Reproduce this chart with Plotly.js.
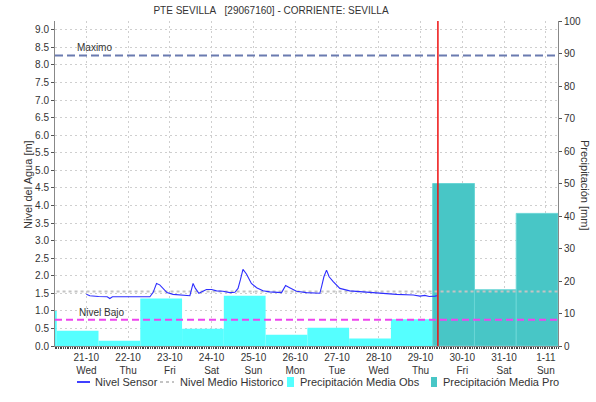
<!DOCTYPE html>
<html><head><meta charset="utf-8">
<script src="https://cdn.plot.ly/plotly-3.0.1.min.js"></script>
<style>html,body{margin:0;padding:0;background:#fff}#chart{width:596px;height:402px}</style>
</head><body><div id="chart"></div>
<script>
// ---------------- data ----------------
const titleText = 'PTE SEVILLA&nbsp;&nbsp;&nbsp;[29067160] - CORRIENTE: SEVILLA';
const dayTicks = ['2020-10-21','2020-10-22','2020-10-23','2020-10-24','2020-10-25','2020-10-26',
                  '2020-10-27','2020-10-28','2020-10-29','2020-10-30','2020-10-31','2020-11-01'];
const dayLabels = ['21-10','22-10','23-10','24-10','25-10','26-10','27-10','28-10','29-10','30-10','31-10','1-11'];
const weekdayLabels = ['Wed','Thu','Fri','Sat','Sun','Mon','Tue','Wed','Thu','Fri','Sat','Sun'];

const sensorTimes = ['2020-10-21 00:00','2020-10-21 02:00','2020-10-21 07:00','2020-10-21 12:00','2020-10-21 13:30',
 '2020-10-21 15:00','2020-10-21 20:00','2020-10-22 05:00','2020-10-22 12:30','2020-10-22 14:20','2020-10-22 16:20',
 '2020-10-22 18:10','2020-10-22 19:30','2020-10-22 22:20','2020-10-23 01:50','2020-10-23 07:30','2020-10-23 11:30',
 '2020-10-23 13:20','2020-10-23 14:40','2020-10-23 16:40','2020-10-23 19:00','2020-10-23 21:00','2020-10-24 00:00',
 '2020-10-24 02:50','2020-10-24 06:30','2020-10-24 10:30','2020-10-24 13:20','2020-10-24 15:10','2020-10-24 16:30',
 '2020-10-24 18:00','2020-10-24 20:00','2020-10-24 22:50','2020-10-25 01:50','2020-10-25 05:30','2020-10-25 09:20',
 '2020-10-25 16:10','2020-10-25 17:00','2020-10-25 18:30','2020-10-25 20:50','2020-10-26 00:45','2020-10-26 06:30',
 '2020-10-26 14:10','2020-10-26 15:10','2020-10-26 16:30','2020-10-26 18:00','2020-10-26 19:30','2020-10-26 21:50',
 '2020-10-27 01:40','2020-10-27 07:20','2020-10-27 15:00','2020-10-28 00:40','2020-10-28 10:10','2020-10-28 19:50',
 '2020-10-28 23:40','2020-10-29 02:30','2020-10-29 05:00','2020-10-29 08:20','2020-10-29 09:30'];
const sensorLevels = [1.47,1.43,1.41,1.40,1.35,
 1.40,1.40,1.40,1.40,1.52,1.78,
 1.74,1.67,1.52,1.47,1.44,1.43,
 1.78,1.64,1.50,1.57,1.61,1.61,
 1.57,1.56,1.52,1.53,1.64,1.88,
 2.18,2.05,1.78,1.66,1.57,1.54,
 1.52,1.59,1.72,1.66,1.56,1.52,
 1.50,1.69,1.97,2.16,1.97,1.83,
 1.64,1.57,1.54,1.50,1.47,1.45,
 1.42,1.44,1.41,1.42,1.43];

const historicTimes = ['2020-10-20','2020-10-21','2020-10-22','2020-10-23','2020-10-24','2020-10-25','2020-10-26',
 '2020-10-27','2020-10-28','2020-10-29','2020-10-30','2020-10-31','2020-11-01','2020-11-02'];
const historicLevels = [1.55,1.55,1.55,1.55,1.55,1.55,1.55,1.55,1.55,1.55,1.55,1.55,1.55,1.55];

const obsPeriodStart = ['2020-10-19 07:00','2020-10-20 07:00','2020-10-21 07:00','2020-10-22 07:00','2020-10-23 07:00',
 '2020-10-24 07:00','2020-10-25 07:00','2020-10-26 07:00','2020-10-27 07:00','2020-10-28 07:00'];
const obsPrecip = [10.8,4.7,1.6,14.6,5.3,15.5,3.5,5.6,2.3,8.2];
const proPeriodStart = ['2020-10-29 07:00','2020-10-30 07:00','2020-10-31 07:00'];
const proPrecip = [50.0,17.3,40.8];

const levelMax = 8.27;
const levelLow = 0.75;
const nowTime = '2020-10-29 10:00';

// ---------------- chart ----------------
const W = 596, H = 402, ML = 55, MR = 38, MT = 21, MB = 56;
const PW = W - ML - MR, PH = H - MT - MB;
const px = x => (x - ML) / PW;
const py = y => (H - MB - y) / PH;

const FONT = 'Liberation Sans, Arial, sans-serif';
const DAY = 86400000;

const traces = [
  {type:'bar', x: obsPeriodStart, y: obsPrecip, offset: 0, width: DAY, yaxis:'y', xaxis:'x',
   marker:{color:'#55ffff', line:{width:0}}, name:'Precipitación Media Obs', showlegend:false, hoverinfo:'skip'},
  {type:'bar', x: proPeriodStart, y: proPrecip, offset: 0, width: DAY, yaxis:'y', xaxis:'x',
   marker:{color:'#48c6c6', line:{width:1, color:'#6ad6d6'}}, name:'Precipitación Media Pro', showlegend:false, hoverinfo:'skip'},
  {type:'scatter', mode:'lines', x: historicTimes, y: historicLevels, yaxis:'y2', xaxis:'x',
   line:{color:'#c4c4c4', width:2, dash:'3px,3px'}, name:'Nivel Medio Historico', showlegend:false, hoverinfo:'skip'},
  {type:'scatter', mode:'lines', x: sensorTimes, y: sensorLevels, yaxis:'y2', xaxis:'x',
   line:{color:'#2e2eff', width:1.1}, name:'Nivel Sensor', showlegend:false, hoverinfo:'skip'}
];

const tickFont = {family: FONT, size: 10, color: '#333'};
const gridStyle = {showgrid: true, gridcolor: '#cfcfcf', griddash: '2px,3px', gridwidth: 1};
const layout = {
  width: W, height: H,
  margin: {l: ML, r: MR, t: MT, b: MB, pad: 0},
  paper_bgcolor: '#fff', plot_bgcolor: '#fff',
  showlegend: false,
  barmode: 'overlay',
  font: {family: FONT, size: 10, color: '#333'},
  title: {text: titleText, x: 271 / W, xref: 'container', xanchor: 'center',
          y: 1 - 10 / H, yref: 'container', yanchor: 'middle',
          font: {family: FONT, size: 10, color: '#333'}},
  xaxis: Object.assign({type: 'date', range: ['2020-10-20 06:00', '2020-11-01 07:00'],
          tickvals: dayTicks, ticktext: dayLabels.map((d, i) => d + '<br>' + weekdayLabels[i]),
          ticks: 'outside', ticklen: 2, tickcolor: '#555', tickfont: tickFont,
          showline: true, linecolor: '#888', linewidth: 1, zeroline: false,
          minor: {dtick: 3600000, ticks: 'outside', ticklen: 2, tickcolor: '#444', showgrid: false}}, gridStyle),
  yaxis: {range: [0, 100], side: 'right', dtick: 10, tick0: 0, showgrid: false, zeroline: false,
          ticks: 'outside', ticklen: 3, tickcolor: '#555', tickfont: tickFont,
          showline: true, linecolor: '#888', linewidth: 1},
  yaxis2: Object.assign({range: [0, 9.25], side: 'left', overlaying: 'y', dtick: 0.5, tick0: 0, tickformat: '.1f',
           zeroline: false, ticks: 'outside', ticklen: 3, tickcolor: '#555', tickfont: tickFont,
           showline: true, linecolor: '#888', linewidth: 1}, gridStyle),
  shapes: [
    {type:'line', xref:'paper', x0:0, x1:1, yref:'y2', y0:levelMax, y1:levelMax, layer:'above',
     line:{color:'#6a7bb0', width:2, dash:'8px,4px'}},
    {type:'line', xref:'paper', x0:0, x1:1, yref:'y2', y0:levelLow, y1:levelLow, layer:'above',
     line:{color:'#ee44ee', width:2, dash:'7px,4px'}},
    {type:'line', xref:'x', x0:nowTime, x1:nowTime, yref:'paper', y0:0, y1:1, layer:'above',
     line:{color:'#ee1111', width:1.5}},
    // legend symbols
    {type:'line', xref:'paper', yref:'paper', x0:px(77), x1:px(90), y0:py(382), y1:py(382),
     line:{color:'#0000ff', width:1.5}},
    {type:'line', xref:'paper', yref:'paper', x0:px(160), x1:px(174), y0:py(382), y1:py(382),
     line:{color:'#c4c4c4', width:2, dash:'3px,3px'}},
    {type:'rect', xref:'paper', yref:'paper', x0:px(287), x1:px(294), y0:py(387), y1:py(377),
     fillcolor:'#55ffff', line:{width:0}},
    {type:'rect', xref:'paper', yref:'paper', x0:px(431), x1:px(437), y0:py(387), y1:py(377),
     fillcolor:'#48c6c6', line:{width:0}}
  ],
  annotations: [
    {xref:'paper', yref:'y2', x:px(75), y:levelMax, text:'Maximo', showarrow:false,
     xanchor:'left', yanchor:'bottom', font:{family:FONT, size:10, color:'#333'}},
    {xref:'paper', yref:'y2', x:px(77), y:levelLow, text:'Nivel Bajo', showarrow:false,
     xanchor:'left', yanchor:'bottom', font:{family:FONT, size:10, color:'#333'}},
    {xref:'paper', yref:'paper', x:px(28), y:py(185), text:'Nivel del Agua [m]', showarrow:false,
     textangle:-90, xanchor:'center', yanchor:'middle', font:{family:FONT, size:11, color:'#333'}},
    {xref:'paper', yref:'paper', x:px(585), y:py(185), text:'Precipitación [mm]', showarrow:false,
     textangle:90, xanchor:'center', yanchor:'middle', font:{family:FONT, size:11, color:'#333'}},
    // legend texts
    {xref:'paper', yref:'paper', x:px(93), y:py(382), text:'Nivel Sensor', showarrow:false,
     xanchor:'left', yanchor:'middle', font:{family:FONT, size:11, color:'#333'}},
    {xref:'paper', yref:'paper', x:px(178), y:py(382), text:'Nivel Medio Historico', showarrow:false,
     xanchor:'left', yanchor:'middle', font:{family:FONT, size:11, color:'#333'}},
    {xref:'paper', yref:'paper', x:px(298), y:py(382), text:'Precipitación Media Obs', showarrow:false,
     xanchor:'left', yanchor:'middle', font:{family:FONT, size:11, color:'#333'}},
    {xref:'paper', yref:'paper', x:px(441), y:py(382), text:'Precipitación Media Pro', showarrow:false,
     xanchor:'left', yanchor:'middle', font:{family:FONT, size:11, color:'#333'}}
  ]
};

Plotly.newPlot('chart', traces, layout, {staticPlot: true, displayModeBar: false});
</script>
</body></html>
